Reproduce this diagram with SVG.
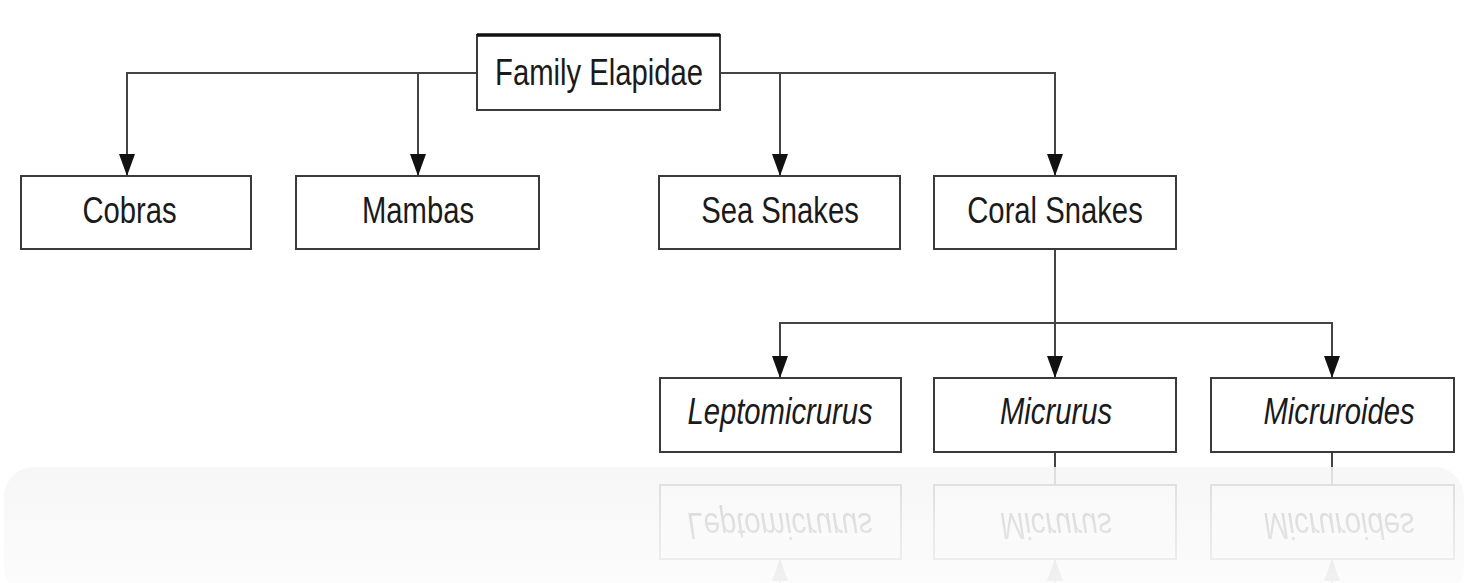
<svg xmlns="http://www.w3.org/2000/svg" width="1464" height="583" viewBox="0 0 1464 583">
  <style>
    .box { fill: #ffffff; stroke: #3a3a3a; stroke-width: 2; }
    .lbl { font-family: "Liberation Sans", Arial, sans-serif; font-size: 37.5px; fill: #1a1a1a; text-anchor: middle; }
    .it { font-style: italic; }
    .wire { fill: none; stroke: #444444; stroke-width: 2; }
    .ref .box { stroke: #9a9a9a; }
    .ref .lbl { fill: #777777; }
    .ref .wire { stroke: #999999; }
  </style>
  <defs>
    <marker id="arr" markerWidth="22" markerHeight="16" refX="22" refY="8" orient="auto" markerUnits="userSpaceOnUse" viewBox="0 0 22 16">
      <path d="M0,0 L22,8 L0,16 Z" fill="#111111"/>
    </marker>
    <marker id="arrR" markerWidth="22" markerHeight="16" refX="22" refY="8" orient="auto" markerUnits="userSpaceOnUse" viewBox="0 0 22 16">
      <path d="M0,0 L22,8 L0,16 Z" fill="#999999"/>
    </marker>
    <linearGradient id="fade" x1="0" y1="0" x2="0" y2="1">
      <stop offset="0" stop-color="#f7f7f7"/>
      <stop offset="1" stop-color="#fcfcfc"/>
    </linearGradient>
    <linearGradient id="refFade" gradientUnits="userSpaceOnUse" x1="0" y1="467" x2="0" y2="583">
      <stop offset="0" stop-color="#ffffff" stop-opacity="0.28"/>
      <stop offset="1" stop-color="#ffffff" stop-opacity="0.1"/>
    </linearGradient>
    <mask id="refMask">
      <rect x="0" y="467" width="1464" height="116" fill="url(#refFade)"/>
    </mask>
  </defs>

  <rect x="0" y="0" width="1464" height="583" fill="#ffffff"/>
  <rect x="4" y="467" width="1460" height="130" rx="30" fill="url(#fade)"/>

  <g id="connectors">
    <path class="wire" d="M477,73 H127 V176" marker-end="url(#arr)"/>
    <path class="wire" d="M418,73 V176" marker-end="url(#arr)"/>
    <path class="wire" d="M720,73 H1055 V176" marker-end="url(#arr)"/>
    <path class="wire" d="M780,73 V176" marker-end="url(#arr)"/>
    <path class="wire" d="M1055,249 V378" marker-end="url(#arr)"/>
    <path class="wire" d="M1055,323 H780 V378" marker-end="url(#arr)"/>
    <path class="wire" d="M1055,323 H1332 V378" marker-end="url(#arr)"/>
    <path class="wire" d="M1055,452 V467"/>
    <path class="wire" d="M1332,452 V467"/>
  </g>

  <g id="family">
    <rect class="box" x="477" y="35" width="243" height="75"/>
    <line x1="477" y1="35" x2="720" y2="35" stroke="#111" stroke-width="3.5"/>
    <text class="lbl" transform="translate(599,85) scale(0.78,1)">Family Elapidae</text>
  </g>
  <g id="cobras">
    <rect class="box" x="21" y="176" width="230" height="73"/>
    <text class="lbl" transform="translate(129.5,223) scale(0.78,1)">Cobras</text>
  </g>
  <g id="mambas">
    <rect class="box" x="296" y="176" width="243" height="73"/>
    <text class="lbl" transform="translate(418,223) scale(0.78,1)">Mambas</text>
  </g>
  <g id="sea-snakes">
    <rect class="box" x="659" y="176" width="241" height="73"/>
    <text class="lbl" transform="translate(780,223) scale(0.78,1)">Sea Snakes</text>
  </g>
  <g id="coral-snakes">
    <rect class="box" x="934" y="176" width="242" height="73"/>
    <text class="lbl" transform="translate(1055,223) scale(0.78,1)">Coral Snakes</text>
  </g>
  <g id="leptomicrurus">
    <rect class="box" x="660" y="378" width="241" height="74"/>
    <text class="lbl it" transform="translate(780,424) scale(0.78,1)">Leptomicrurus</text>
  </g>
  <g id="micrurus">
    <rect class="box" x="934" y="378" width="242" height="74"/>
    <text class="lbl it" transform="translate(1056,424) scale(0.78,1)">Micrurus</text>
  </g>
  <g id="micruroides">
    <rect class="box" x="1211" y="378" width="243" height="74"/>
    <text class="lbl it" transform="translate(1339,424) scale(0.78,1)">Micruroides</text>
  </g>

  <g id="reflection" mask="url(#refMask)">
    <g class="ref" transform="translate(0,937) scale(1,-1)">
      <path class="wire" d="M780,350 V378" marker-end="url(#arrR)"/>
      <path class="wire" d="M1055,350 V378" marker-end="url(#arrR)"/>
      <path class="wire" d="M1332,350 V378" marker-end="url(#arrR)"/>
      <path class="wire" d="M1055,452 V470"/>
      <path class="wire" d="M1332,452 V470"/>
      <rect class="box" x="660" y="378" width="241" height="74"/>
      <text class="lbl it" transform="translate(780,424) scale(0.78,1)">Leptomicrurus</text>
      <rect class="box" x="934" y="378" width="242" height="74"/>
      <text class="lbl it" transform="translate(1056,424) scale(0.78,1)">Micrurus</text>
      <rect class="box" x="1211" y="378" width="243" height="74"/>
      <text class="lbl it" transform="translate(1339,424) scale(0.78,1)">Micruroides</text>
    </g>
  </g>
</svg>
